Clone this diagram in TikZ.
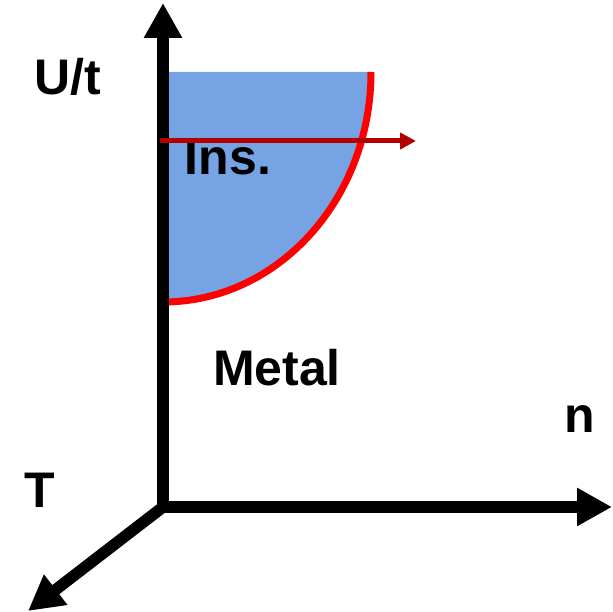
\documentclass[tikz,border=0pt]{standalone}
\usepackage{fontspec}
\setmainfont{Liberation Sans}
\usetikzlibrary{arrows.meta}

\definecolor{insblue}{RGB}{118,163,228}
\definecolor{darkred}{RGB}{178,0,0}

\tikzset{
    axisline/.style={line width=11.5pt, -{Triangle[length=35pt,width=36pt]}},
    phaselabel/.style={anchor=base, inner sep=0pt, font=\fontsize{50}{50}\selectfont\bfseries}
}

\begin{document}
\begin{tikzpicture}[x=1pt, y=-1pt]
        \useasboundingbox (0,0) rectangle (613,612);

        % Insulating region
        \fill[insblue] (163,72) -- (371,72) arc[start angle=0, end angle=90, x radius=208, y radius=230] -- cycle;
        \draw[red, line width=7pt] (371,72) arc[start angle=0, end angle=90, x radius=208, y radius=230];

        % Axes
        \coordinate (origin) at (163,507);
        \coordinate (utop) at (163,3);
        \coordinate (nend) at (612,507);
        \coordinate (tend) at (28,611);
        \draw[axisline] (origin) -- (utop);
        \draw[axisline] (origin) -- (nend);
        \draw[axisline, shorten <=-3pt] (origin) -- (tend);

        % Labels
        \node[phaselabel] (ulabel) at (68,95) {U/t};
        \node[phaselabel] (nlabel) at (580,432) {n};
        \node[phaselabel] (tlabel) at (40,507) {T};
        \node[phaselabel] (inslabel) at (228,175) {Ins.};
        \node[phaselabel] (metlabel) at (277,385) {Metal};

        % Sweep at fixed U/t
        \coordinate (sweepa) at (160,141);
        \coordinate (sweepb) at (416,141);
        \draw[darkred, line width=5pt, -{Triangle[length=16pt,width=16pt]}] (sweepa) -- (sweepb);

        \end{tikzpicture}
\end{document}
